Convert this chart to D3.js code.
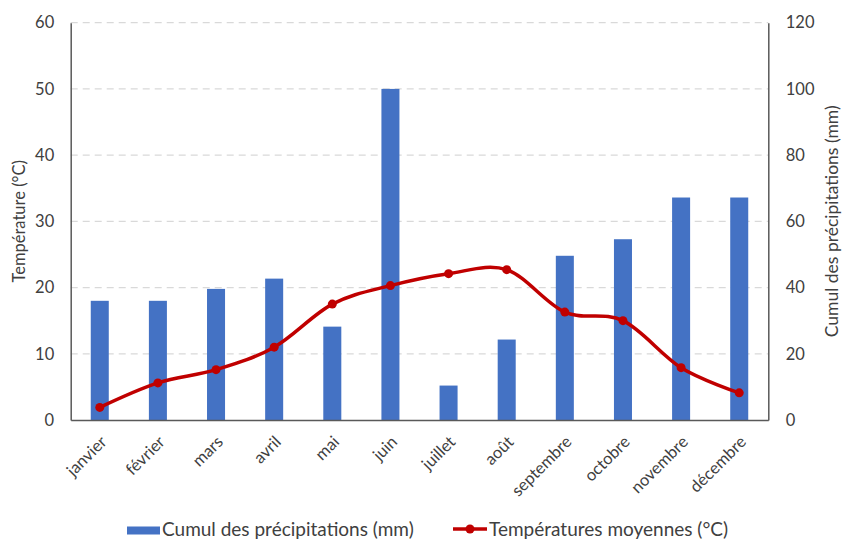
<!DOCTYPE html>
<html>
<head>
<meta charset="utf-8">
<script src="https://cdn.jsdelivr.net/npm/d3@7"></script>
<style>
  html, body { margin: 0; padding: 0; background: #fff; }
  svg { display: block; font-family: Lato, "Open Sans", sans-serif; }
</style>
</head>
<body>
<svg id="chart" width="842" height="540"></svg>
<script>
// Monthly climate data
const months = ["janvier", "février", "mars", "avril", "mai", "juin", "juillet", "août", "septembre", "octobre", "novembre", "décembre"];
const precipitation = [36, 36, 39.6, 42.7, 28.2, 100, 10.4, 24.3, 49.6, 54.6, 67.2, 67.2];
const temperature = [1.9, 5.6, 7.6, 11.0, 17.5, 20.3, 22.1, 22.7, 16.3, 15.0, 7.9, 4.1];
const tempTicks = [0, 10, 20, 30, 40, 50, 60];
const precipTicks = [0, 20, 40, 60, 80, 100, 120];

const svg = d3.select("#chart");
const m = { left: 70.7, right: 768.3, top: 22.7, bottom: 420 };

const x = d3.scaleBand().domain(months).range([m.left, m.right])
  .paddingInner(0.69).paddingOuter(0.345);
const yT = d3.scaleLinear().domain([0, 60]).range([m.bottom, m.top]);
const yP = d3.scaleLinear().domain([0, 120]).range([m.bottom, m.top]);

const textCol = "#404040";
const axisCol = "#595959";

// Dashed horizontal gridlines
svg.append("g").selectAll("line").data(tempTicks.filter(d => d > 0)).join("line")
  .attr("x1", m.left).attr("x2", m.right)
  .attr("y1", d => yT(d)).attr("y2", d => yT(d))
  .attr("stroke", "#d9d9d9").attr("stroke-width", 1.3)
  .attr("stroke-dasharray", "7,5");

// Precipitation bars (right axis)
svg.append("g").selectAll("rect").data(months).join("rect")
  .attr("x", d => x(d)).attr("width", x.bandwidth())
  .attr("y", (d, i) => yP(precipitation[i]))
  .attr("height", (d, i) => yP(0) - yP(precipitation[i]))
  .attr("fill", "#4472C4");

// Left axis (temperature)
const leftAxis = svg.append("g").attr("transform", `translate(${m.left},0)`)
  .call(d3.axisLeft(yT).tickValues(tempTicks).tickSize(0).tickPadding(16.5));
// Right axis (precipitation)
const rightAxis = svg.append("g").attr("transform", `translate(${m.right},0)`)
  .call(d3.axisRight(yP).tickValues(precipTicks).tickSize(0).tickPadding(17.5));
[leftAxis, rightAxis].forEach(g => {
  g.select(".domain").attr("stroke", axisCol).attr("stroke-width", 1.5);
  g.selectAll("text").attr("fill", textCol).attr("font-size", 16.5)
    .attr("font-family", "Lato, sans-serif");
});

// Bottom axis with rotated month labels
const bottomAxis = svg.append("g").attr("transform", `translate(0,${m.bottom})`)
  .call(d3.axisBottom(x).tickSize(0).tickPadding(0));
bottomAxis.select(".domain").attr("stroke", axisCol).attr("stroke-width", 1.5);
bottomAxis.selectAll("text")
  .attr("fill", textCol).attr("font-size", 16.5).attr("font-family", "Lato, sans-serif")
  .attr("text-anchor", "end").attr("dy", null).attr("y", 0)
  .attr("transform", "translate(5,20) rotate(-45)")
  .attr("dominant-baseline", "middle");

// Temperature line
const line = d3.line()
  .x((d, i) => x(months[i]) + x.bandwidth() / 2)
  .y(d => yT(d))
  .curve(d3.curveCardinal.tension(0));
svg.append("path").datum(temperature)
  .attr("d", line).attr("fill", "none")
  .attr("stroke", "#C00000").attr("stroke-width", 3.5)
  .attr("stroke-linejoin", "round");
svg.append("g").selectAll("circle").data(temperature).join("circle")
  .attr("cx", (d, i) => x(months[i]) + x.bandwidth() / 2)
  .attr("cy", d => yT(d)).attr("r", 4.5)
  .attr("fill", "#C00000");

// Axis titles
svg.append("text")
  .attr("transform", `translate(25,${(m.top + m.bottom) / 2}) rotate(-90)`)
  .attr("text-anchor", "middle").attr("fill", textCol).attr("font-size", 16.5)
  .text("Température (°C)");
svg.append("text")
  .attr("transform", `translate(838,${(m.top + m.bottom) / 2}) rotate(-90)`)
  .attr("text-anchor", "middle").attr("fill", textCol).attr("font-size", 17.5)
  .text("Cumul des précipitations (mm)");

// Legend
const legend = svg.append("g");
legend.append("rect").attr("x", 127).attr("y", 526.5).attr("width", 33).attr("height", 8)
  .attr("fill", "#4472C4");
legend.append("text").attr("x", 162).attr("y", 531).attr("dominant-baseline", "middle")
  .attr("fill", textCol).attr("font-size", 19).text("Cumul des précipitations (mm)");
legend.append("line").attr("x1", 453).attr("x2", 487).attr("y1", 529).attr("y2", 529)
  .attr("stroke", "#C00000").attr("stroke-width", 3.5);
legend.append("circle").attr("cx", 470).attr("cy", 529).attr("r", 4.5).attr("fill", "#C00000");
legend.append("text").attr("x", 489).attr("y", 531).attr("dominant-baseline", "middle")
  .attr("fill", textCol).attr("font-size", 19).text("Températures moyennes (°C)");
</script>
</body>
</html>
